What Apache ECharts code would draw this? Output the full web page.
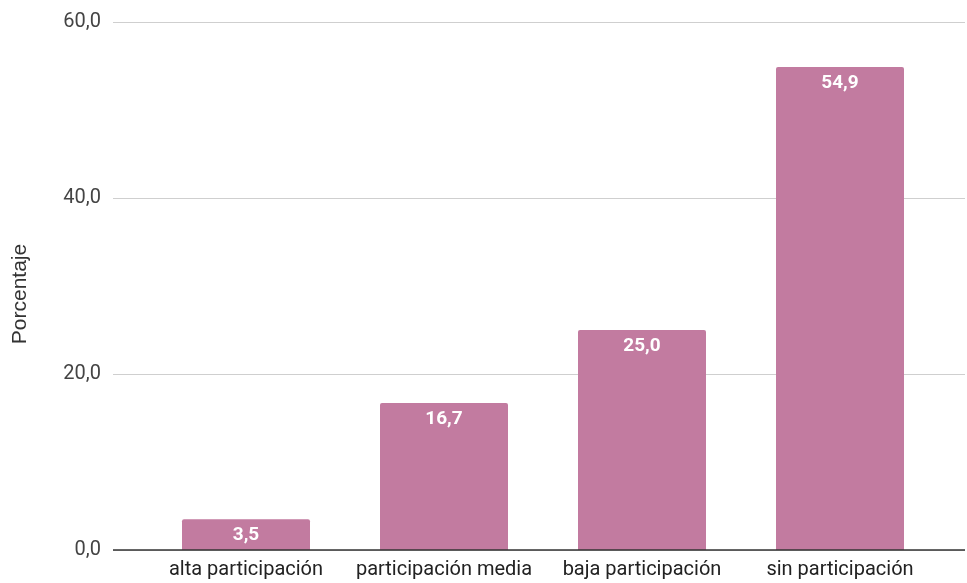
<!DOCTYPE html>
<html>
<head>
<meta charset="utf-8">
<script src="https://cdn.jsdelivr.net/npm/echarts@6/dist/echarts.min.js"></script>
<style>
  html, body { margin: 0; padding: 0; background: #fff; }
  #chart { width: 967px; height: 583px; }
</style>
</head>
<body>
<div id="chart"></div>
<script>
// Participación: porcentaje por nivel
const categories = ['alta participación', 'participación media', 'baja participación', 'sin participación'];
const porcentajes = [3.5, 16.7, 25.0, 54.9];
const yTicks = [0, 20, 40, 60];

const fmt = v => v.toFixed(1).replace('.', ',');
const FONT = 'Roboto, "Noto Sans", sans-serif';

const chart = echarts.init(document.getElementById('chart'));
chart.setOption({
  animation: false,
  textStyle: { fontFamily: FONT },
  grid: [
    // scale + gridlines across the full width
    { left: 113, right: 2, top: 22, bottom: 33 },
    // bars, inset from the ends like the category bands
    { left: 147, right: 28, top: 22, bottom: 33 }
  ],
  xAxis: [
    { gridIndex: 0, type: 'category', data: categories, show: false },
    {
      gridIndex: 1, type: 'category', data: categories,
      axisLine: { show: false },
      axisTick: { show: false },
      axisLabel: {
        color: '#222', fontSize: 20, margin: 10, fontFamily: FONT,
        interval: 0, hideOverlap: false
      }
    }
  ],
  yAxis: [
    {
      gridIndex: 0, type: 'value',
      min: yTicks[0], max: yTicks[yTicks.length - 1], interval: yTicks[1] - yTicks[0],
      name: 'Porcentaje', nameLocation: 'middle', nameGap: 82,
      nameTextStyle: {
        color: '#333', fontSize: 21, fontFamily: '"Liberation Sans", Arial, sans-serif',
        padding: [0, 16, 0, 0]
      },
      axisLine: { show: false },
      axisTick: { show: false },
      axisLabel: { color: '#444', fontSize: 20, margin: 12, formatter: fmt, fontFamily: FONT },
      splitLine: { lineStyle: { color: '#cfcfcf', width: 1 } }
    },
    {
      gridIndex: 1, type: 'value',
      min: yTicks[0], max: yTicks[yTicks.length - 1], interval: yTicks[1] - yTicks[0],
      show: false, splitLine: { show: false }
    }
  ],
  series: [
    {
      type: 'bar',
      xAxisIndex: 1, yAxisIndex: 1,
      data: porcentajes,
      barWidth: 128,
      itemStyle: { color: '#c27ba0', borderRadius: [2, 2, 0, 0] },
      label: {
        show: true, position: 'insideTop', distance: 7,
        color: '#fff', fontWeight: 'bold', fontSize: 19, fontFamily: FONT,
        formatter: p => fmt(p.value)
      }
    },
    {
      // baseline at zero across the full width
      type: 'line', xAxisIndex: 0, yAxisIndex: 0, data: [],
      markLine: {
        symbol: 'none', silent: true, label: { show: false },
        lineStyle: { color: '#333', width: 1.5, type: 'solid' },
        data: [{ yAxis: 0 }]
      }
    }
  ]
});
</script>
</body>
</html>
